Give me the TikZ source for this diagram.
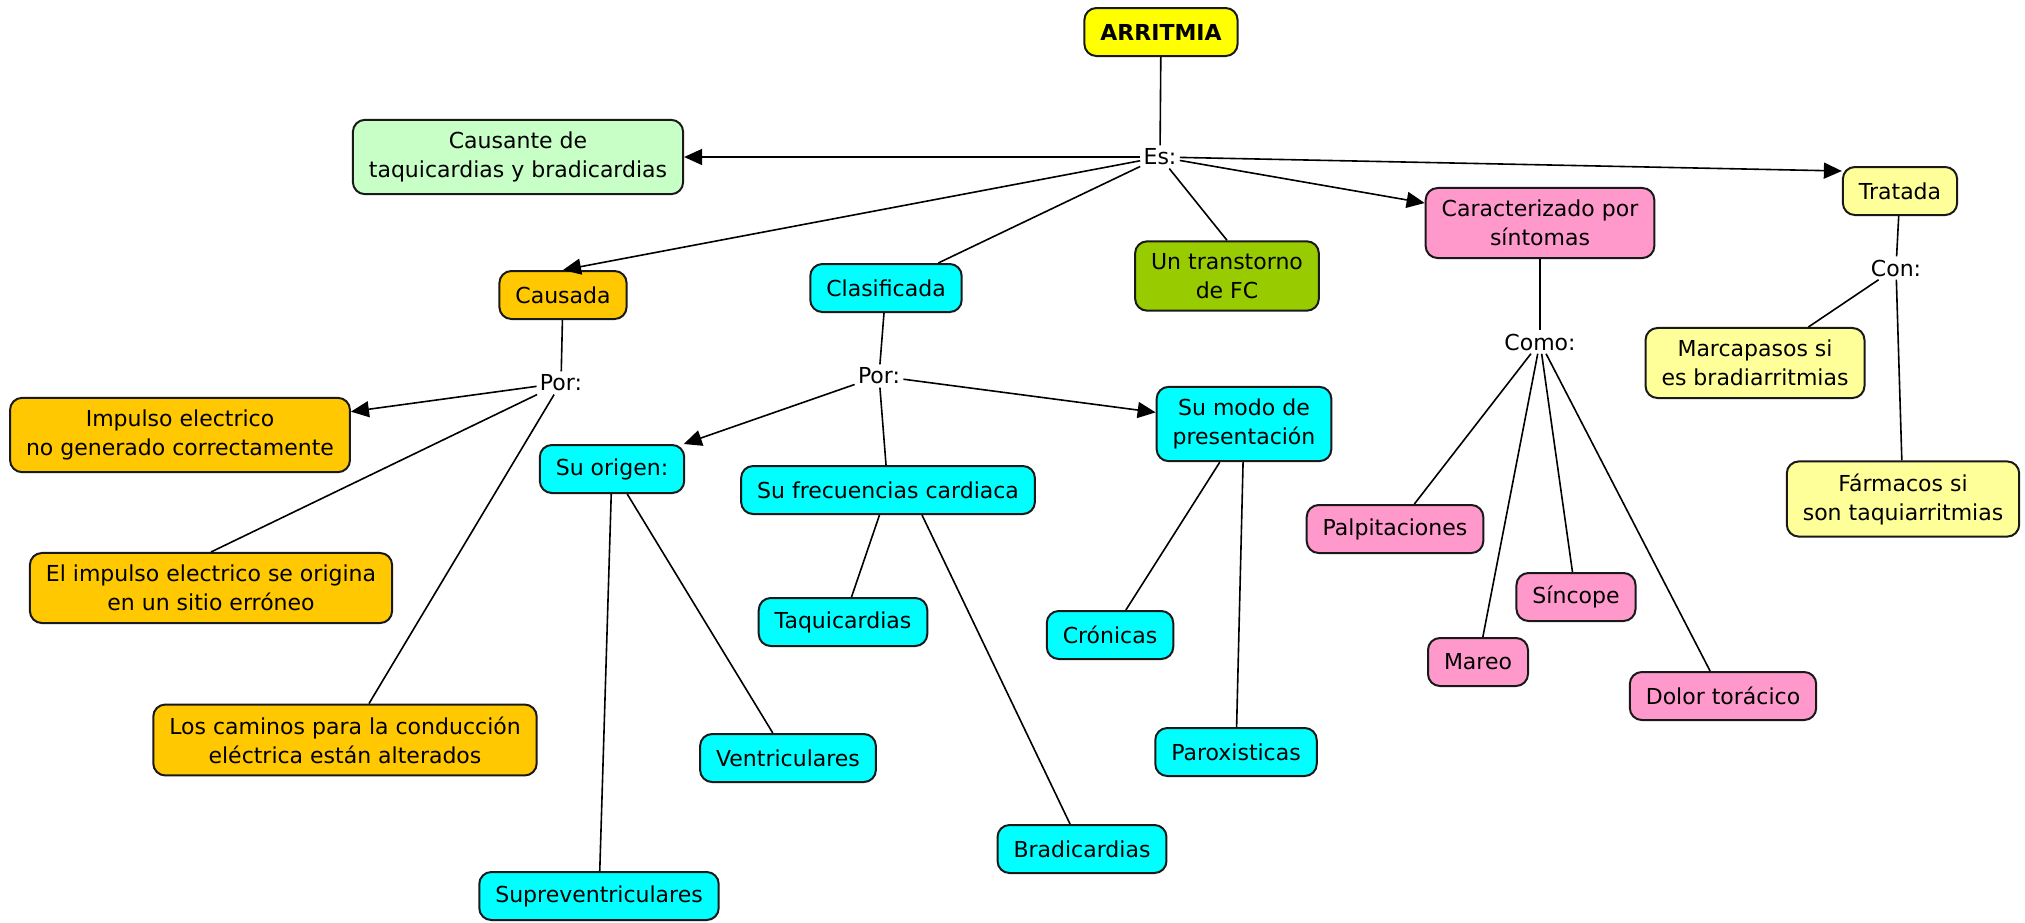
\documentclass[tikz,border=0pt]{standalone}
\usepackage{fontspec}
\setmainfont{DejaVu Sans}
\usetikzlibrary{arrows.meta}

\definecolor{amarillo}{RGB}{255,255,0}
\definecolor{verdeclaro}{RGB}{199,255,199}
\definecolor{naranja}{RGB}{255,200,0}
\definecolor{cian}{RGB}{0,255,255}
\definecolor{oliva}{RGB}{153,204,0}
\definecolor{rosa}{RGB}{255,153,204}
\definecolor{crema}{RGB}{255,255,153}

\tikzset{
    concept/.style={draw=black!90, line width=1pt, rounded corners=6pt, align=center,
        inner xsep=8pt, inner ysep=6pt, minimum height=24pt,
        font=\fontsize{11}{14.5}\selectfont},
    linking/.style={inner sep=1.5pt, font=\fontsize{11}{14.5}\selectfont},
    link/.style={line width=0.8pt},
    arrow/.style={line width=0.8pt, -{Triangle[length=9pt,width=8pt]}}
}

\begin{document}
\begin{tikzpicture}[x=0.5pt, y=-0.5pt]
        \fill[white] (0,0) rectangle (2025,922);
        \useasboundingbox (0,0) rectangle (2025,922);

        %%%%%%%%%%%%%%%%%%%%%%%%%%%%%%%%%%%%%%%%%%%%
        % Main concept
        %%%%%%%%%%%%%%%%%%%%%%%%%%%%%%%%%%%%%%%%%%%%
        \node [concept, fill=amarillo, font=\fontsize{11}{14.5}\selectfont\bfseries] (arritmia) at (1161,32) {ARRITMIA};
        \node [linking] (es) at (1160,157) {Es:};

        % First level
        \node [concept, fill=verdeclaro] (causante) at (518,157) {Causante de\\taquicardias y bradicardias};
        \node [concept, fill=naranja] (causada) at (563,295) {Causada};
        \node [concept, fill=cian] (clasif) at (886,288) {Clasificada};
        \node [concept, fill=oliva] (transt) at (1227,276) {Un transtorno\\de FC};
        \node [concept, fill=rosa] (caract) at (1540,223) {Caracterizado por\\síntomas};
        \node [concept, fill=crema] (tratada) at (1900,191) {Tratada};

        %%%%%%%%%%%%%%%%%%%%%%%%%%%%%%%%%%%%%%%%%%%%
        % Causes
        %%%%%%%%%%%%%%%%%%%%%%%%%%%%%%%%%%%%%%%%%%%%
        \node [linking] (por1) at (561,383) {Por:};
        \node [concept, fill=naranja] (impulso) at (180,435) {Impulso electrico\\no generado correctamente};
        \node [concept, fill=naranja] (eimp) at (211,588) {El impulso electrico se origina\\en un sitio erróneo};
        \node [concept, fill=naranja] (camin) at (345,740) {Los caminos para la conducción\\eléctrica están alterados};

        %%%%%%%%%%%%%%%%%%%%%%%%%%%%%%%%%%%%%%%%%%%%
        % Classification
        %%%%%%%%%%%%%%%%%%%%%%%%%%%%%%%%%%%%%%%%%%%%
        \node [linking] (por2) at (879,376) {Por:};
        \node [concept, fill=cian] (modo) at (1244,424) {Su modo de\\presentación};

        % Drawing
        \foreach \n/\x/\y/\t in {origen/612/469/Su origen:, frec/888/490/Su frecuencias cardiaca,
                ventr/788/758/Ventriculares, suprav/599/896/Supreventriculares,
                taqui/843/622/Taquicardias, bradi/1082/849/Bradicardias,
                cronic/1110/635/Crónicas, parox/1236/752/Paroxisticas}
            \node [concept, fill=cian] (\n) at (\x,\y) {\t};

        %%%%%%%%%%%%%%%%%%%%%%%%%%%%%%%%%%%%%%%%%%%%
        % Symptoms
        %%%%%%%%%%%%%%%%%%%%%%%%%%%%%%%%%%%%%%%%%%%%
        \node [linking] (como) at (1540,342) {Como:};
        \foreach \n/\x/\y/\t in {palp/1395/529/Palpitaciones, mareo/1478/662/Mareo,
                sincope/1576/597/Síncope, dolor/1723/696/Dolor torácico}
            \node [concept, fill=rosa] (\n) at (\x,\y) {\t};

        %%%%%%%%%%%%%%%%%%%%%%%%%%%%%%%%%%%%%%%%%%%%
        % Treatment
        %%%%%%%%%%%%%%%%%%%%%%%%%%%%%%%%%%%%%%%%%%%%
        \node [linking] (con) at (1896,268) {Con:};
        \node [concept, fill=crema] (marcap) at (1755,363) {Marcapasos si\\es bradiarritmias};
        \node [concept, fill=crema] (farmac) at (1903,499) {Fármacos si\\son taquiarritmias};

        %%%%%%%%%%%%%%%%%%%%%%%%%%%%%%%%%%%%%%%%%%%%
        % Connecting
        %%%%%%%%%%%%%%%%%%%%%%%%%%%%%%%%%%%%%%%%%%%%
        \draw [link] (arritmia) -- (es);
        \draw [arrow] (es) -- (causante);
        \draw [arrow] (es) -- (causada.north);
        \draw [link] (es) -- (clasif);
        \draw [link] (es) -- (transt.north);
        \draw [arrow] (es) -- (caract);
        \draw [arrow] (es) -- ([yshift=-2.5pt]tratada.north west);

        % Causes
        \draw [link] (causada) -- (por1);
        \draw [arrow] (por1) -- (impulso);
        \draw [link] (por1) -- (eimp.north);
        \draw [link] (por1) -- ([xshift=12pt]camin.north);

        % Classification
        \draw [link] (clasif) -- (por2);
        \draw [arrow] (por2) -- (origen);
        \draw [link] (por2) -- (frec);
        \draw [arrow] (por2) -- (modo);
        \foreach \j in {ventr,suprav}
            \draw [link] (origen) -- (\j);
        \draw [link] (frec) -- (taqui);
        \draw [link] ([xshift=17pt]frec.south) -- (bradi);
        \foreach \j in {cronic,parox}
            \draw [link] (modo) -- (\j);

        % Symptoms
        \draw [link] (caract) -- (como);
        \foreach \j in {palp,mareo,sincope,dolor}
            \draw [link] (como) -- (\j);

        % Treatment
        \draw [link] (tratada) -- (con);
        \foreach \j in {marcap,farmac}
            \draw [link] (con) -- (\j);
\end{tikzpicture}
\end{document}
